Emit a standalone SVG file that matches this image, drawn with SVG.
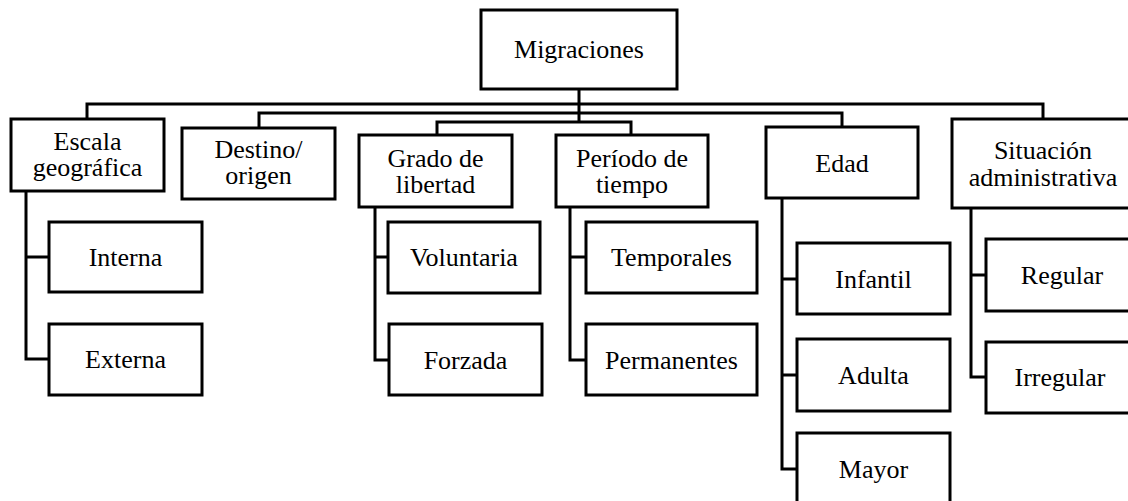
<svg xmlns="http://www.w3.org/2000/svg" width="1128" height="501" viewBox="0 0 1128 501">
<style>
rect{fill:#fff;stroke:#000;stroke-width:3}
text{font-family:"Liberation Serif","Times New Roman",serif;font-size:26px;fill:#000;text-anchor:middle}
.c{fill:none;stroke:#000;stroke-width:3}
</style>
<rect x="0" y="0" width="1128" height="501" style="stroke:none"/>
<g id="connectors">
<path class="c" d="M579 89V122M87 118V104H1043V119M259 128V113H842V127M437 135V122H631V135"/>
<path class="c" d="M26 191V359H49M26 257H49"/>
<path class="c" d="M375 207V360H389M375 257H388"/>
<path class="c" d="M570 206V360H586M570 257H586"/>
<path class="c" d="M782 198V469H797M782 279H797M782 375H797"/>
<path class="c" d="M971 208V377H986M971 275H986"/>
</g>
<g id="migraciones"><rect x="481" y="10" width="196" height="79"/><text x="579" y="58">Migraciones</text></g>
<g id="escala"><rect x="11" y="119" width="153" height="72"/><text x="87.5" y="150">Escala</text><text x="87.5" y="176">geográfica</text></g>
<g id="destino"><rect x="182" y="128" width="153" height="71"/><text x="258.5" y="158">Destino/</text><text x="258.5" y="184">origen</text></g>
<g id="grado"><rect x="359" y="135" width="153" height="72"/><text x="435.5" y="167">Grado de</text><text x="435.5" y="193">libertad</text></g>
<g id="periodo"><rect x="556" y="135" width="152" height="72"/><text x="632" y="167">Período de</text><text x="632" y="193">tiempo</text></g>
<g id="edad"><rect x="766" y="127" width="152" height="71"/><text x="842" y="172">Edad</text></g>
<g id="situacion"><rect x="952" y="119" width="182" height="89"/><text x="1043" y="159">Situación</text><text x="1043" y="186">administrativa</text></g>
<g id="interna"><rect x="49" y="222" width="153" height="70"/><text x="125.5" y="266">Interna</text></g>
<g id="externa"><rect x="49" y="324" width="153" height="71"/><text x="125.5" y="368">Externa</text></g>
<g id="voluntaria"><rect x="388" y="222" width="152" height="71"/><text x="464" y="266">Voluntaria</text></g>
<g id="forzada"><rect x="389" y="324" width="153" height="71"/><text x="465.5" y="369">Forzada</text></g>
<g id="temporales"><rect x="586" y="222" width="171" height="71"/><text x="671.5" y="266">Temporales</text></g>
<g id="permanentes"><rect x="586" y="324" width="171" height="71"/><text x="671.5" y="369">Permanentes</text></g>
<g id="infantil"><rect x="797" y="243" width="153" height="71"/><text x="873.5" y="288">Infantil</text></g>
<g id="adulta"><rect x="797" y="339" width="153" height="72"/><text x="873.5" y="384">Adulta</text></g>
<g id="mayor"><rect x="797" y="433" width="153" height="72"/><text x="873.5" y="478">Mayor</text></g>
<g id="regular"><rect x="986" y="239" width="152" height="72"/><text x="1062" y="284">Regular</text></g>
<g id="irregular"><rect x="986" y="342" width="152" height="71"/><text x="1060" y="386">Irregular</text></g>
</svg>
